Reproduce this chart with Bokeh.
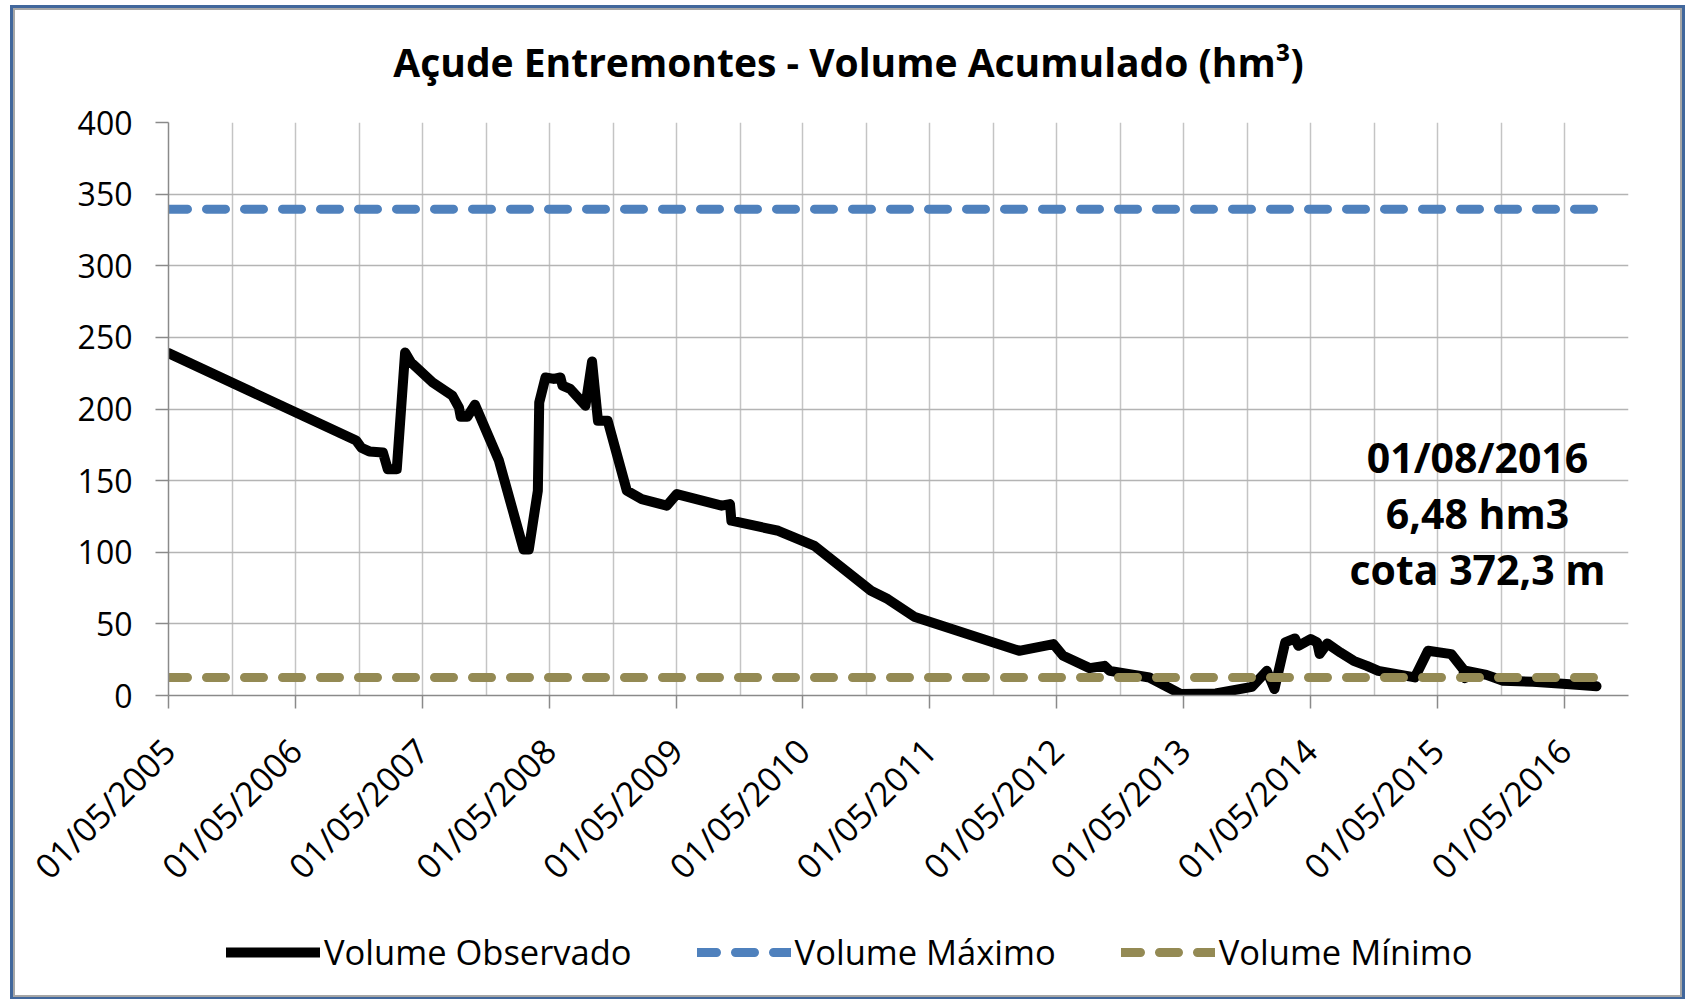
import numpy as np
import pandas as pd
from math import pi
from bokeh.plotting import figure
from bokeh.layouts import column
from bokeh.models import (Range1d, FixedTicker, DatetimeTickFormatter, Legend,
                          LegendItem, Label)
from bokeh.embed import file_html
from bokeh.resources import INLINE

# ---------------- data ----------------
obs_dates = [
    "2005-05-01", "2006-10-23", "2006-11-07", "2006-11-30", "2007-01-08",
    "2007-01-22", "2007-02-17", "2007-03-13", "2007-03-30", "2007-05-31",
    "2007-07-27", "2007-08-15", "2007-08-20", "2007-09-08", "2007-09-30",
    "2007-12-08", "2008-02-17", "2008-03-03", "2008-03-29", "2008-04-02",
    "2008-04-20", "2008-05-14", "2008-06-02", "2008-06-08", "2008-06-30",
    "2008-08-13", "2008-09-01", "2008-09-18", "2008-10-16", "2008-12-10",
    "2009-01-22", "2009-04-04", "2009-05-03", "2009-09-09", "2009-10-03",
    "2009-10-07", "2010-02-19", "2010-06-03", "2010-11-13", "2010-12-31",
    "2011-03-17", "2012-01-13", "2012-04-21", "2012-05-19", "2012-08-03",
    "2012-09-15", "2012-09-30", "2013-01-22", "2013-04-23", "2013-08-01",
    "2013-11-13", "2013-12-26", "2014-01-17", "2014-02-17", "2014-03-17",
    "2014-03-27", "2014-05-01", "2014-05-20", "2014-05-27", "2014-06-18",
    "2014-07-26", "2014-09-02", "2014-10-10", "2014-11-12", "2015-02-25",
    "2015-04-04", "2015-06-10", "2015-07-14", "2015-07-19", "2015-07-24",
    "2015-09-19", "2015-11-06", "2016-01-31", "2016-05-06", "2016-08-01",
]
obs_values = [
    239.0, 178.0, 173.0, 170.4, 169.7,
    158.0, 158.0, 239.5, 232.5, 218.6,
    209.3, 201.0, 194.6, 194.6, 203.0,
    164.0, 102.0, 102.0, 143.0, 204.6,
    222.0, 221.0, 222.0, 216.3, 214.0,
    202.3, 233.2, 191.8, 191.8, 143.0,
    137.1, 132.5, 140.6, 132.5, 133.6,
    122.0, 115.0, 104.5, 73.1, 67.3,
    55.0, 31.2, 35.9, 27.7, 19.1,
    20.7, 17.2, 12.6, 1.0, 1.4,
    6.0, 17.2, 4.5, 37.0, 39.8,
    34.7, 39.4, 37.0, 29.0, 36.3,
    30.0, 24.2, 20.7, 17.2, 12.6,
    31.2, 28.9, 18.4, 12.1, 17.2,
    14.4, 10.3, 9.6, 8.0, 6.48,
]
ref_dates = ["2005-05-01", "2016-08-01"]
vol_max_values = [339.5, 339.5]
vol_min_values = [12.6, 12.6]

series_names = ["Volume Observado", "Volume Máximo", "Volume Mínimo"]
title_text = "Açude Entremontes - Volume Acumulado (hm³)"
note_lines = ["01/08/2016", "6,48 hm3", "cota 372,3 m"]

tick_dates = ["2005-05-01", "2006-05-01", "2007-05-01", "2008-05-01",
              "2009-05-01", "2010-05-01", "2011-05-01", "2012-05-01",
              "2013-05-01", "2014-05-01", "2015-05-01", "2016-05-01"]
grid_dates = ["2005-05-01", "2005-11-01", "2006-05-01", "2006-11-01",
              "2007-05-01", "2007-11-01", "2008-05-01", "2008-11-01",
              "2009-05-01", "2009-11-01", "2010-05-01", "2010-11-01",
              "2011-05-01", "2011-11-01", "2012-05-01", "2012-11-01",
              "2013-05-01", "2013-11-01", "2014-05-01", "2014-11-01",
              "2015-05-01", "2015-11-01", "2016-05-01", "2016-11-01"]
y_ticks = [0, 50, 100, 150, 200, 250, 300, 350, 400]
x_start, x_end = "2005-05-01", "2016-11-01"
y_start, y_end = 0, 400


def to_ms(dates):
    return [int(v) for v in pd.to_datetime(dates).values.astype("datetime64[ms]").astype("int64")]


FONT = "Open Sans"
COLORS = ["black", "#4f81bd", "#948a54"]

W = 1665
H_TITLE, H_MAIN, H_LEG = 80, 820, 85


def strip(height):
    s = figure(width=W, height=height, x_range=Range1d(0, 1), y_range=Range1d(0, 1),
               output_backend="svg", toolbar_location=None,
               x_axis_location=None, y_axis_location=None, min_border=0)
    s.title.visible = False
    s.outline_line_color = None
    s.grid.visible = False
    s.background_fill_color = "white"
    s.border_fill_color = "white"
    return s


# ---------------- title strip ----------------
pt = strip(H_TITLE)
pt.add_layout(Label(x=680, y=29, x_units="screen", y_units="screen",
                    text=title_text, text_font=FONT, text_font_style="bold",
                    text_font_size="39px", text_align="center",
                    text_baseline="alphabetic", text_color="black"))

# ---------------- main chart ----------------
p = figure(width=W, height=H_MAIN, x_axis_type="datetime",
           x_range=Range1d(to_ms([x_start])[0], to_ms([x_end])[0]),
           y_range=Range1d(y_start, y_end),
           output_backend="svg", toolbar_location=None,
           min_border_left=153, min_border_right=52,
           min_border_top=32, min_border_bottom=215)
p.title.visible = False
p.background_fill_color = "white"
p.border_fill_color = "white"
p.outline_line_color = None

# grids
p.xgrid.ticker = FixedTicker(ticks=to_ms(grid_dates))
p.xgrid.grid_line_color = "#c4c4c4"
p.xgrid.grid_line_width = 1.5
p.ygrid.grid_line_color = "#b4b4b4"
p.ygrid.grid_line_width = 1.5

# axes
p.xaxis.ticker = FixedTicker(ticks=to_ms(tick_dates))
fmt = "%d/%m/%Y"
p.xaxis.formatter = DatetimeTickFormatter(
    milliseconds=fmt, seconds=fmt, minsec=fmt, minutes=fmt, hourmin=fmt,
    hours=fmt, days=fmt, months=fmt, years=fmt)
p.xaxis.major_label_orientation = pi / 4
p.yaxis.ticker = FixedTicker(ticks=y_ticks)
for ax in (p.xaxis[0], p.yaxis[0]):
    ax.axis_line_color = "#8a8a8a"
    ax.axis_line_width = 1.5
    ax.major_tick_line_color = "#8a8a8a"
    ax.major_tick_line_width = 1.5
    ax.major_tick_out = 13
    ax.major_tick_in = 0
    ax.minor_tick_line_color = None
    ax.major_label_text_font = FONT
    ax.major_label_text_color = "black"
p.yaxis.major_label_text_font_size = "32px"
p.xaxis.major_label_text_font_size = "34px"
p.yaxis.major_label_standoff = 23
p.xaxis.major_label_standoff = 36

# series
obs_x = pd.to_datetime(obs_dates)
ref_x = pd.to_datetime(ref_dates)
p.line(obs_x, obs_values, line_color=COLORS[0], line_width=10,
       line_join="round", line_cap="round")
p.line(ref_x, vol_max_values, line_color=COLORS[1], line_width=9,
       line_dash="19 19", line_cap="round")
p.line(ref_x, vol_min_values, line_color=COLORS[2], line_width=9,
       line_dash="19 19", line_cap="round")

# note
for i, t in enumerate(note_lines):
    p.add_layout(Label(x=1309, y=239 - 56 * i, x_units="screen", y_units="screen",
                       text=t, text_font=FONT, text_font_style="bold",
                       text_font_size="41px", text_align="center",
                       text_baseline="alphabetic", text_color="black"))

# ---------------- legend strip ----------------
pl = strip(H_LEG)
# legend swatches: renderers whose only points lie outside the visible range
off_x, off_y = [2, 3], [2, 3]
lr_obs = pl.line(off_x, off_y, line_color=COLORS[0], line_width=10, line_cap="round")
lr_max = pl.line(off_x, off_y, line_color=COLORS[1], line_width=9,
                 line_dash="19 19", line_cap="round")
lr_min = pl.line(off_x, off_y, line_color=COLORS[2], line_width=9,
                 line_dash="19 19", line_cap="round")
legend = Legend(items=[LegendItem(label=series_names[0], renderers=[lr_obs]),
                       LegendItem(label=series_names[1], renderers=[lr_max]),
                       LegendItem(label=series_names[2], renderers=[lr_min])],
                orientation="horizontal", location=(58, 20),
                glyph_width=94, glyph_height=30, label_standoff=4, spacing=65,
                padding=0, margin=0, border_line_color=None,
                background_fill_alpha=0,
                label_text_font=FONT, label_text_font_size="34.5px",
                label_text_color="black")
pl.add_layout(legend)

layout = column(pt, p, pl, spacing=0,
                styles={"border": "2px solid #a6a6a6", "outline": "3px solid #41679c",
                        "margin-left": "13px", "margin-top": "8px"})

open("out.html", "w").write(file_html(layout, INLINE))
